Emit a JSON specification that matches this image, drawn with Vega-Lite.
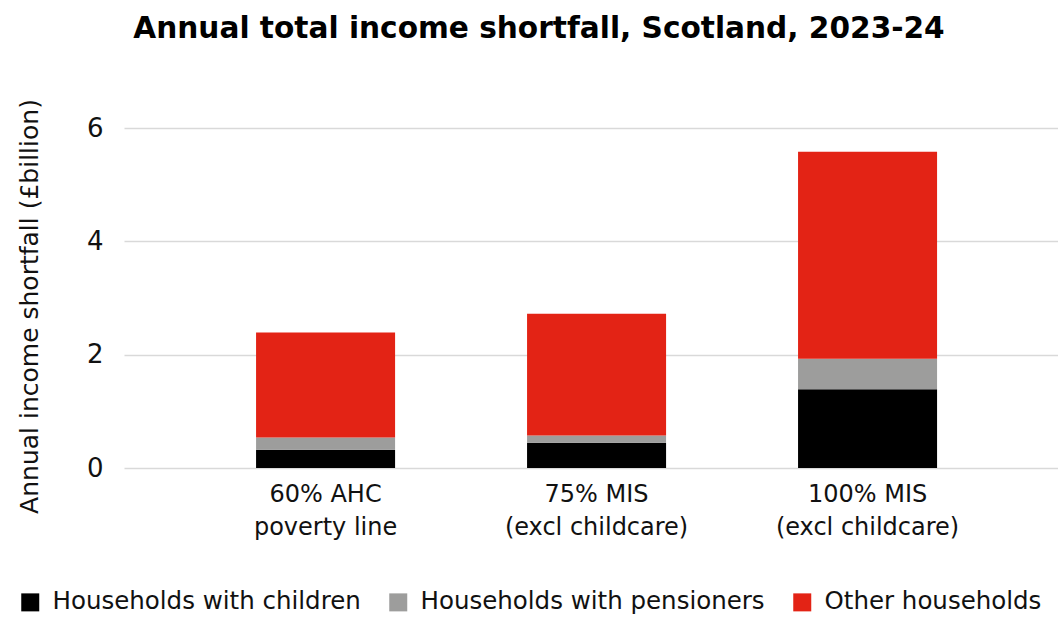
{
  "$schema": "https://vega.github.io/schema/vega-lite/v6.json",
  "width": 934,
  "height": 340,
  "autosize": {"type": "none"},
  "padding": {"left": 124, "top": 128, "right": 0, "bottom": 150},
  "background": "white",
  "title": {
    "text": "Annual total income shortfall, Scotland, 2023-24",
    "font": "DejaVu Sans",
    "fontWeight": "bold",
    "fontSize": 29.6,
    "color": "#000000",
    "anchor": "middle",
    "dx": -52,
    "offset": 54
  },
  "data": {
    "values": [
      {"measure": "60% AHC|poverty line", "group": "Households with children", "ord": 1, "value": 0.32},
      {"measure": "60% AHC|poverty line", "group": "Households with pensioners", "ord": 2, "value": 0.22},
      {"measure": "60% AHC|poverty line", "group": "Other households", "ord": 3, "value": 1.85},
      {"measure": "75% MIS|(excl childcare)", "group": "Households with children", "ord": 1, "value": 0.445},
      {"measure": "75% MIS|(excl childcare)", "group": "Households with pensioners", "ord": 2, "value": 0.13},
      {"measure": "75% MIS|(excl childcare)", "group": "Other households", "ord": 3, "value": 2.145},
      {"measure": "100% MIS|(excl childcare)", "group": "Households with children", "ord": 1, "value": 1.39},
      {"measure": "100% MIS|(excl childcare)", "group": "Households with pensioners", "ord": 2, "value": 0.54},
      {"measure": "100% MIS|(excl childcare)", "group": "Other households", "ord": 3, "value": 3.65}
    ]
  },
  "mark": {"type": "bar"},
  "encoding": {
    "x": {
      "field": "measure",
      "type": "nominal",
      "sort": null,
      "scale": {"paddingInner": 0.487, "paddingOuter": 0.4668, "align": 0.522},
      "axis": {
        "title": null,
        "labelAngle": 0,
        "labelExpr": "split(datum.label, '|')",
        "labelFont": "DejaVu Sans",
        "labelFontSize": 24,
        "labelColor": "#111111",
        "labelLineHeight": 33,
        "labelPadding": 14,
        "labelLimit": 400,
        "domain": false,
        "ticks": false,
        "grid": false
      }
    },
    "y": {
      "field": "value",
      "type": "quantitative",
      "stack": "zero",
      "scale": {"domain": [0, 6], "nice": false},
      "axis": {
        "title": "Annual income shortfall (£billion)",
        "titleFont": "DejaVu Sans",
        "titleFontWeight": "normal",
        "titleFontSize": 25,
        "titleColor": "#111111",
        "titleX": -87,
        "titleY": 178,
        "titleBaseline": "alphabetic",
        "values": [0, 2, 4, 6],
        "labelFont": "DejaVu Sans",
        "labelFontSize": 26,
        "labelColor": "#111111",
        "labelPadding": 21,
        "domain": false,
        "ticks": false,
        "grid": true,
        "gridColor": "#d9d9d9",
        "gridWidth": 1.5
      }
    },
    "color": {
      "field": "group",
      "type": "nominal",
      "scale": {
        "domain": ["Households with children", "Households with pensioners", "Other households"],
        "range": ["#000000", "#9d9d9c", "#e32315"]
      },
      "legend": {
        "title": null,
        "orient": "none",
        "direction": "horizontal",
        "legendX": -106,
        "legendY": 462,
        "symbolType": "square",
        "symbolSize": 324,
        "symbolStrokeWidth": 0,
        "symbolOpacity": 1,
        "labelFont": "DejaVu Sans",
        "labelFontSize": 24.5,
        "labelColor": "#111111",
        "labelLimit": 400,
        "labelOffset": 10,
        "columnPadding": 25
      }
    },
    "order": {"field": "ord", "type": "quantitative"}
  },
  "config": {"view": {"stroke": null}}
}
